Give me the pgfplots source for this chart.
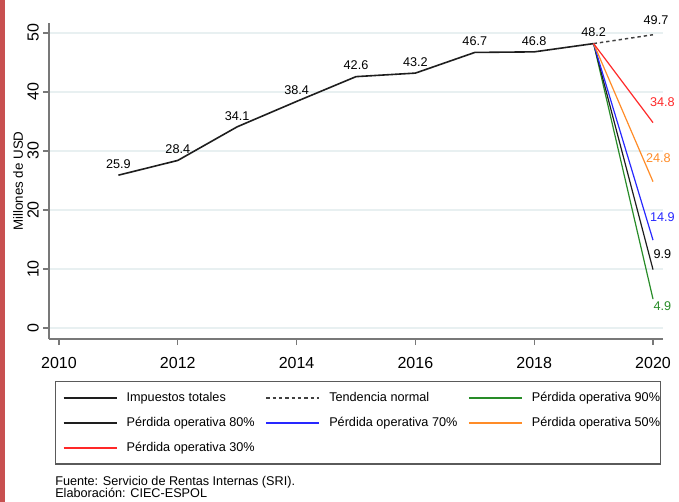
\documentclass[border=0pt]{standalone}
\usepackage{fontspec}
\setmainfont{Liberation Sans}
\usepackage{pgfplots}
\pgfplotsset{compat=1.18}

\definecolor{axisgray}{RGB}{120,120,120}
\definecolor{gridc}{RGB}{232,240,241}
\definecolor{mainline}{RGB}{30,30,30}
\definecolor{sgreen}{RGB}{40,140,40}
\definecolor{sblue}{RGB}{40,40,255}
\definecolor{sorange}{RGB}{255,140,40}
\definecolor{sred}{RGB}{255,40,40}
\definecolor{sideb}{RGB}{200,80,80}

% legend text cell of fixed width
\newcommand{\lentry}[2][104pt]{\makebox[#1][l]{\rule[-2.2pt]{0pt}{9.5pt}#2}}

\begin{document}
\begin{tikzpicture}
\path[use as bounding box] (0,0) rectangle (509.25pt,-376.5pt);
\fill[sideb] (0,0) rectangle (3.75pt,-376.5pt);
\begin{axis}[
  at={(36.75pt,-17.25pt)}, anchor=north west,
  scale only axis, width=460.5pt, height=237pt,
  xmin=2009.832, xmax=2020.168, ymin=-1.86, ymax=51.69,
  axis lines*=left,
  axis line style={axisgray, line width=0.9pt},
  xtick={2010,2012,...,2020}, ytick={0,10,...,50},
  minor tick num=0,
  tick align=outside, major tick length=4.5pt,
  tick style={axisgray, line width=0.9pt},
  ymajorgrids, major grid style={gridc, line width=1pt},
  /pgf/number format/assume math mode=true,
  /pgf/number format/1000 sep={},
  tick label style={font=\fontsize{12}{14}\selectfont},
  xticklabel style={anchor=north, inner sep=0pt, yshift=-9pt},
  yticklabel style={xshift=-3pt, rotate=90, anchor=south, inner sep=0pt},
  ylabel={Millones de USD},
  every axis y label/.style={at={(rel axis cs:0,0.5)}, xshift=-23.25pt, rotate=90, anchor=center, font=\fontsize{10}{12}\selectfont},
  clip=false,
  point meta=explicit symbolic,
  legend columns=3,
  legend image code/.code={\draw[#1, line width=1.5pt] (0pt,0pt) -- (39.75pt,0pt);},
  legend style={at={(0,0)}, anchor=north west, xshift=4.5pt, yshift=-31.5pt,
     draw={rgb,255:red,90;green,90;blue,90}, line width=0.9pt,
     inner xsep=5.25pt, inner ysep=7.6pt,
     font=\fontsize{9.5}{11}\selectfont,
     nodes={inner sep=0pt},
     row sep=10.1pt,
     /tikz/every odd column/.append style={column sep=6.75pt}},
]
% impuestos totales
\addplot[mainline, line width=1.2pt, nodes near coords,
  every node near coord/.append style={anchor=center, yshift=8.25pt, font=\fontsize{9.5}{11}\selectfont, text=black}]
  coordinates {
  (2011,25.9) [25.9] (2012,28.4) [28.4] (2013,34.1) [34.1]
  (2014,38.4) [38.4] (2015,42.6) [42.6] (2016,43.2) [43.2]
  (2017,46.7) [46.7] (2018,46.8) [46.8] (2019,48.2) [48.2]
  };
\addlegendentry{\lentry{Impuestos totales}}
% tendencia normal
\addplot[black!75, line width=1.1pt, dash pattern=on 2.5pt off 2.25pt, nodes near coords,
  every node near coord/.append style={anchor=center, xshift=2.25pt, yshift=11.25pt, font=\fontsize{9.5}{11}\selectfont, text=black}]
  coordinates {(2019,48.2) [] (2020,49.7) [49.7]};
\addlegendentry{\lentry{Tendencia normal}}
% escenarios
\addplot[sgreen, line width=0.9pt, nodes near coords,
  every node near coord/.append style={anchor=center, xshift=7pt, yshift=-5.25pt, font=\fontsize{9.5}{11}\selectfont, text=sgreen}]
  coordinates {(2019,48.2) [] (2020,4.9) [4.9]};
\addlegendentry{\lentry[91pt]{Pérdida operativa 90\%}}
\addplot[mainline, line width=0.9pt, nodes near coords,
  every node near coord/.append style={anchor=center, xshift=7pt, yshift=11.25pt, font=\fontsize{9.5}{11}\selectfont, text=black}]
  coordinates {(2019,48.2) [] (2020,9.9) [9.9]};
\addlegendentry{\lentry{Pérdida operativa 80\%}}
\addplot[sblue, line width=0.9pt, nodes near coords,
  every node near coord/.append style={anchor=center, xshift=7pt, yshift=17.25pt, font=\fontsize{9.5}{11}\selectfont, text=sblue}]
  coordinates {(2019,48.2) [] (2020,14.9) [14.9]};
\addlegendentry{\lentry{Pérdida operativa 70\%}}
\addplot[sorange, line width=0.9pt, nodes near coords,
  every node near coord/.append style={anchor=center, xshift=4pt, yshift=18pt, font=\fontsize{9.5}{11}\selectfont, text=sorange}]
  coordinates {(2019,48.2) [] (2020,24.8) [24.8]};
\addlegendentry{\lentry[91pt]{Pérdida operativa 50\%}}
\addplot[sred, line width=0.9pt, nodes near coords,
  every node near coord/.append style={anchor=center, xshift=7pt, yshift=15.75pt, font=\fontsize{9.5}{11}\selectfont, text=sred}]
  coordinates {(2019,48.2) [] (2020,34.8) [34.8]};
\addlegendentry{\lentry{Pérdida operativa 30\%}}
\end{axis}
\node[anchor=base west, inner sep=0pt, font=\fontsize{9.5}{11}\selectfont] at (41.25pt,-364.5pt) {Fuente: Servicio de Rentas Internas (SRI).};
\node[anchor=base west, inner sep=0pt, font=\fontsize{9.5}{11}\selectfont] at (41.25pt,-373.5pt) {Elaboración: CIEC-ESPOL};
\end{tikzpicture}
\end{document}
